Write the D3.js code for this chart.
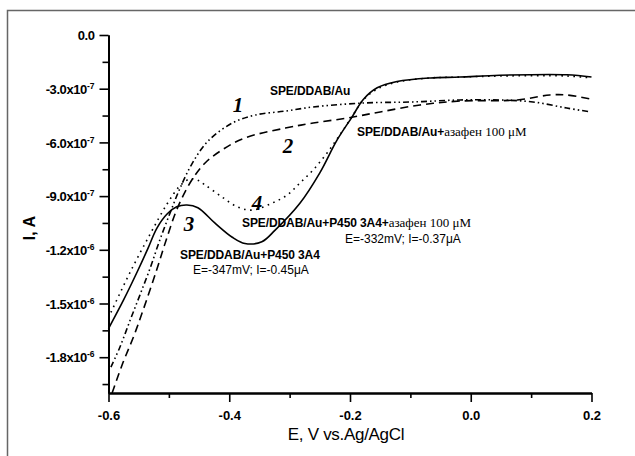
<!DOCTYPE html>
<html>
<head>
<meta charset="utf-8">
<script src="https://cdn.jsdelivr.net/npm/d3@7"></script>
<style>
  body { margin: 0; background: #fff; }
  svg { display: block; }
  .tick text { font-family: 'Liberation Sans', Arial, sans-serif; font-weight: bold; font-size: 13px; }
  .sans { font-family: 'Liberation Sans', Arial, sans-serif; }
  .serif { font-family: 'Liberation Serif', 'Times New Roman', serif; }
</style>
</head>
<body>
<div id="chart"></div>
<script>
// potential E (V) vs. current I (units of 1e-7 A)
const curve1 = [ // SPE/DDAB/Au, dash-dot-dot
  [-0.596,-18.55],[-0.581,-17.43],[-0.564,-15.92],[-0.548,-14.53],[-0.531,-13.02],[-0.515,-11.45],
  [-0.498,-9.94],[-0.482,-8.60],[-0.462,-7.21],[-0.435,-5.92],[-0.395,-4.92],[-0.357,-4.47],
  [-0.307,-4.25],[-0.261,-4.02],[-0.178,-3.80],[-0.096,-3.74],[-0.018,-3.63],[0.048,-3.63],
  [0.103,-3.74],[0.159,-4.08],[0.199,-4.30]]
const curve2 = [ // SPE/DDAB/Au + azafen, dashed
  [-0.594,-20.0],[-0.576,-18.3],[-0.559,-16.9],[-0.543,-15.4],[-0.520,-13.1],[-0.503,-11.3],
  [-0.485,-9.6],[-0.462,-8.1],[-0.440,-7.15],[-0.412,-6.42],[-0.374,-5.75],[-0.307,-5.20],
  [-0.261,-4.92],[-0.205,-4.64],[-0.150,-4.30],[-0.084,-3.91],[-0.018,-3.69],[0.077,-3.63],
  [0.131,-3.35],[0.159,-3.35],[0.199,-3.58]]
const curve3 = [ // SPE/DDAB/Au + P450 3A4, solid
  [-0.600,-16.4],[-0.575,-14.8],[-0.552,-13.2],[-0.535,-11.95],[-0.520,-10.8],[-0.503,-10.0],
  [-0.487,-9.6],[-0.470,-9.5],[-0.452,-9.65],[-0.424,-10.5],[-0.395,-11.3],[-0.374,-11.65],
  [-0.346,-11.55],[-0.324,-10.9],[-0.283,-9.4],[-0.250,-7.7],[-0.222,-5.9],[-0.197,-4.6],
  [-0.178,-3.6],[-0.155,-2.95],[-0.122,-2.6],[-0.067,-2.4],[-0.018,-2.35],[0.048,-2.25],
  [0.159,-2.22],[0.200,-2.35]]
const curve4 = [ // SPE/DDAB/Au + P450 3A4 + azafen, dotted
  [-0.596,-15.5],[-0.564,-13.24],[-0.531,-11.12],[-0.503,-9.44],[-0.482,-8.44],[-0.465,-8.04],
  [-0.453,-8.10],[-0.440,-8.38],[-0.412,-9.05],[-0.386,-9.61],[-0.362,-9.78],[-0.329,-9.39],
  [-0.304,-8.94],[-0.283,-8.27],[-0.261,-7.54],[-0.238,-6.59],[-0.217,-5.59],[-0.197,-4.58],
  [-0.178,-3.63],[-0.155,-3.02],[-0.122,-2.63],[-0.067,-2.40],[-0.018,-2.35],[0.048,-2.29],
  [0.159,-2.29],[0.200,-2.40]]

const xMajor = [-0.6, -0.4, -0.2, 0.0, 0.2],
      xMinor = [-0.5, -0.3, -0.1, 0.1],
      xLabels = ['-0.6', '-0.4', '-0.2', '0.0', '0.2']
const yMajor = [0, -3, -6, -9, -12, -15, -18],
      yMinor = [-1.5, -4.5, -7.5, -10.5, -13.5, -16.5, -19.5],
      yLabels = [['0.0', ''], ['-3.0', '-7'], ['-6.0', '-7'], ['-9.0', '-7'],
                 ['-1.2', '-6'], ['-1.5', '-6'], ['-1.8', '-6']]

const W = 635, H = 456,
      x = d3.scaleLinear().domain([-0.6, 0.2]).range([108.5, 591.5]),
      y = d3.scaleLinear().domain([-20, 0]).range([393, 35])

const svg = d3.select('#chart').append('svg')
  .attr('width', W).attr('height', H)

// outer frame
svg.append('path')
  .attr('d', 'M7.5,' + H + 'V10.5H' + W)
  .attr('fill', 'none').attr('stroke', '#666').attr('stroke-width', 1.5)

// axes
function axis(g, minor) {
  g.select('.domain').attr('stroke-width', 2)
  g.selectAll('.tick line').attr('stroke-width', 1.6)
  if (minor) g.selectAll('.tick text').remove()
}

svg.append('g').attr('transform', 'translate(0,393)')
  .call(d3.axisBottom(x).tickValues(xMinor).tickSize(5).tickSizeOuter(0))
  .call(axis, true)
svg.append('g').attr('transform', 'translate(0,393)')
  .call(d3.axisBottom(x).tickValues(xMajor).tickSize(9).tickSizeOuter(0)
    .tickFormat((d, i) => xLabels[i]))
  .call(axis, false)
  .selectAll('.tick text').attr('dy', '1.15em').attr('fill', '#000')

svg.append('g').attr('transform', 'translate(108.5,0)')
  .call(d3.axisLeft(y).tickValues(yMinor).tickSize(6).tickSizeOuter(0))
  .call(axis, true)
let ya = svg.append('g').attr('transform', 'translate(108.5,0)')
  .call(d3.axisLeft(y).tickValues(yMajor).tickSize(9).tickSizeOuter(0).tickFormat(''))
  .call(axis, false)
ya.selectAll('.tick').each(function (d, i) {
  let t = d3.select(this).select('text')
    .attr('x', -14).attr('dy', '0.36em').attr('fill', '#000').text(null)
  t.append('tspan').attr('letter-spacing', -0.4).text(yLabels[i][0] + (yLabels[i][1] ? 'x10' : ''))
  if (yLabels[i][1]) t.append('tspan').attr('dy', -5).attr('font-size', 8.5).text(yLabels[i][1])
})

// axis titles
svg.append('text').attr('class', 'sans')
  .attr('x', 346).attr('y', 440).attr('text-anchor', 'middle')
  .attr('font-size', 17).attr('letter-spacing', -0.3).text('E, V vs.Ag/AgCl')
svg.append('text').attr('class', 'sans')
  .attr('transform', 'translate(35,228) rotate(-90)').attr('text-anchor', 'middle')
  .attr('font-size', 16).attr('font-weight', 'bold').text('I, A')

// curves
const line = d3.line().x(d => x(d[0])).y(d => y(d[1])).curve(d3.curveCatmullRom)
const styles = [
  [curve1, '6,3,1.5,3,1.5,3'],
  [curve2, '8,5'],
  [curve3, null],
  [curve4, '1.6,4.5']
]
styles.forEach(s => {
  svg.append('path').datum(s[0])
    .attr('d', line)
    .attr('fill', 'none').attr('stroke', '#000')
    .attr('stroke-width', 1.6)
    .attr('stroke-dasharray', s[1])
})

// curve numbers
const nums = [['1', 238, 112], ['2', 288, 153], ['3', 189, 231], ['4', 257, 210]]
nums.forEach(n => {
  svg.append('text').attr('class', 'serif')
    .attr('x', n[1]).attr('y', n[2]).attr('text-anchor', 'middle')
    .attr('font-size', 21).attr('font-style', 'italic').attr('font-weight', 'bold').text(n[0])
})

// annotations
function label(x0, y0, bold, serif) {
  let t = svg.append('text').attr('x', x0).attr('y', y0).attr('font-size', 12)
  t.append('tspan').attr('class', 'sans').attr('font-weight', 'bold')
    .attr('letter-spacing', -0.1).text(bold)
  if (serif) t.append('tspan').attr('class', 'serif').attr('font-size', 13).text(serif)
}
label(270, 95, 'SPE/DDAB/Au')
label(357, 136, 'SPE/DDAB/Au+', 'азафен 100 μM')
label(242, 227, 'SPE/DDAB/Au+P450 3A4+', 'азафен 100 μM')
label(180, 259, 'SPE/DDAB/Au+P450 3A4')

svg.append('text').attr('class', 'sans').attr('x', 345).attr('y', 243)
  .attr('font-size', 12).text('E=-332mV; I=-0.37μA')
svg.append('text').attr('class', 'sans').attr('x', 193).attr('y', 274)
  .attr('font-size', 12).text('E=-347mV; I=-0.45μA')
</script>
</body>
</html>
